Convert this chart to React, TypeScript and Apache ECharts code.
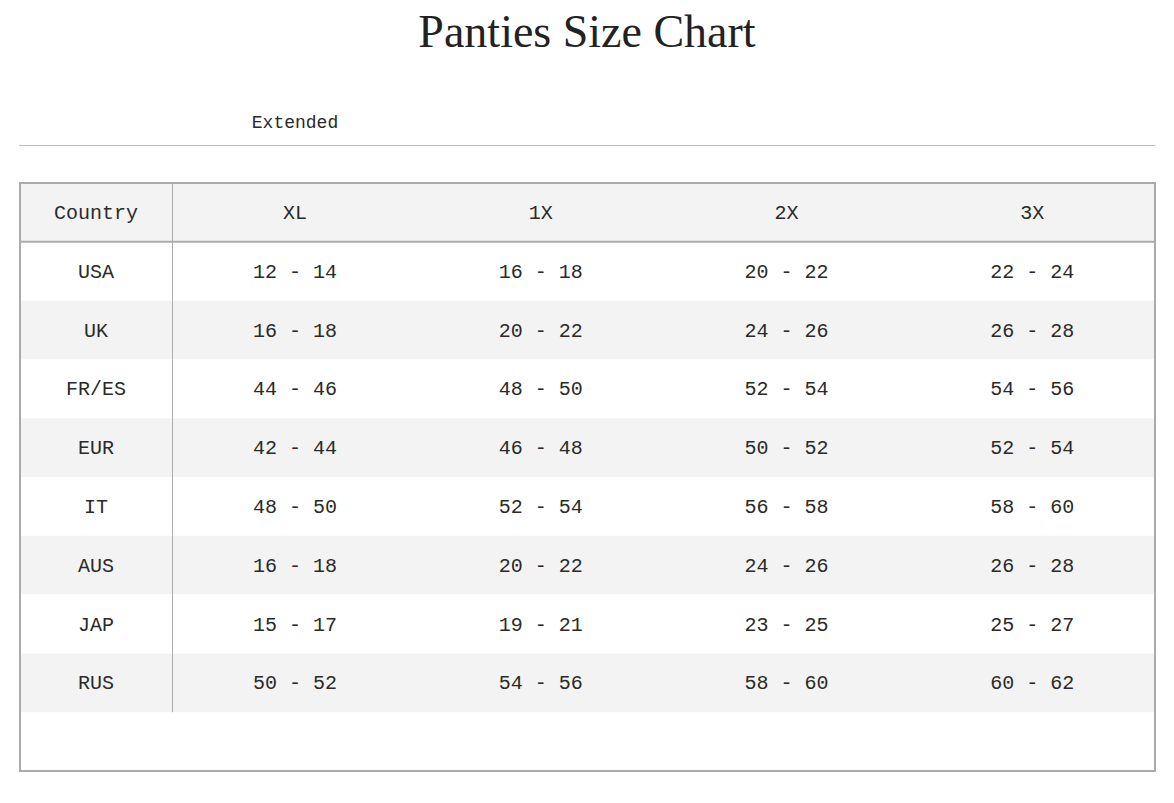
import React, { useEffect, useRef } from "react";
import * as echarts from "echarts";

const TITLE = "Panties Size Chart";
const GROUP_LABEL = "Extended";
const HEADERS = ["Country", "XL", "1X", "2X", "3X"];
const countries = ["USA", "UK", "FR/ES", "EUR", "IT", "AUS", "JAP", "RUS"];
const xlRange = ["12 - 14", "16 - 18", "44 - 46", "42 - 44", "48 - 50", "16 - 18", "15 - 17", "50 - 52"];
const x1Range = ["16 - 18", "20 - 22", "48 - 50", "46 - 48", "52 - 54", "20 - 22", "19 - 21", "54 - 56"];
const x2Range = ["20 - 22", "24 - 26", "52 - 54", "50 - 52", "56 - 58", "24 - 26", "23 - 25", "58 - 60"];
const x3Range = ["22 - 24", "26 - 28", "54 - 56", "52 - 54", "58 - 60", "26 - 28", "25 - 27", "60 - 62"];

const MONO = "'Liberation Mono', 'DejaVu Sans Mono', monospace";
const TEXT = "#2a2a2a";
const STRIPE = "#f3f3f3";
const BORDER = "#ababab";
const FIRST_COL_FRAC = 152 / 1135;

export default function App() {
  const ref = useRef<HTMLDivElement>(null);
  useEffect(() => {
    document.body.style.margin = "0";
    if (!ref.current) return;
    const chart = echarts.init(ref.current, undefined, { renderer: "svg" });

    const rowNames = ["__header", ...countries, "__blank"];
    const cells: any[] = [];
    HEADERS.forEach((h, c) => cells.push([c, 0, h]));
    const cols = [xlRange, x1Range, x2Range, x3Range];
    countries.forEach((name, i) => {
      cells.push([0, i + 1, name]);
      cols.forEach((arr, j) => cells.push([j + 1, i + 1, arr[i]]));
    });

    const renderItem = (params: any, api: any) => {
      const c = api.value(0);
      const r = api.value(1);
      const text = api.value(2);
      const cs = params.coordSys;
      const firstW = cs.width * FIRST_COL_FRAC;
      const otherW = (cs.width - firstW) / 4;
      const x0 = cs.x + (c === 0 ? 0 : firstW + (c - 1) * otherW);
      const w = c === 0 ? firstW : otherW;
      const center = api.coord([c, r]);
      const h = api.size([1, 1])[1];
      const y0 = center[1] - h / 2;
      const children: any[] = [];
      if (c === 0) {
        // row background spans the whole row
        children.push({
          type: "rect",
          z2: 0,
          shape: { x: cs.x, y: y0, width: cs.width, height: h },
          style: { fill: r % 2 === 0 ? STRIPE : "#ffffff" },
        });
        children.push({
          type: "line",
          z2: 10,
          shape: { x1: x0 + w + 0.5, y1: y0, x2: x0 + w + 0.5, y2: y0 + h },
          style: { stroke: BORDER, lineWidth: 1 },
        });
        if (r === 0) {
          children.push({
            type: "line",
            z2: 10,
            shape: { x1: cs.x, y1: y0 + h, x2: cs.x + cs.width, y2: y0 + h },
            style: { stroke: BORDER, lineWidth: 2 },
          });
        }
      }
      children.push({
        type: "text",
        z2: 5,
        x: x0 + w / 2,
        y: y0 + h / 2 + 1,
        style: {
          text: String(text),
          fill: TEXT,
          fontSize: 20,
          fontFamily: MONO,
          align: "center",
          verticalAlign: "middle",
        },
      });
      return { type: "group", children };
    };

    chart.setOption({
      animation: false,
      backgroundColor: "#ffffff",
      title: {
        text: TITLE,
        left: "center",
        top: 8,
        padding: 0,
        textStyle: {
          fontFamily: "'Liberation Serif', 'DejaVu Serif', serif",
          fontSize: 46,
          fontWeight: "normal",
          color: "#222",
        },
      },
      grid: {
        left: 20,
        right: 19,
        top: 183,
        bottom: 32,
        show: true,
        z: 5,
        backgroundColor: "transparent",
        borderColor: BORDER,
        borderWidth: 2,
      },
      xAxis: { type: "category", data: HEADERS, show: false },
      yAxis: { type: "category", data: rowNames, inverse: true, show: false },
      graphic: [
        {
          type: "text",
          x: 295,
          y: 123,
          style: {
            text: GROUP_LABEL,
            fill: TEXT,
            fontSize: 18,
            fontFamily: MONO,
            align: "center",
            verticalAlign: "middle",
          },
        },
        {
          type: "line",
          shape: { x1: 19, y1: 145.5, x2: 1155, y2: 145.5 },
          style: { stroke: "#bdbdbd", lineWidth: 1 },
        },
      ],
      series: [
        {
          type: "custom",
          renderItem,
          data: cells,
          clip: false,
          silent: true,
        },
      ],
    });
    return () => chart.dispose();
  }, []);
  return <div ref={ref} style={{ width: 1174, height: 803 }} />;
}
